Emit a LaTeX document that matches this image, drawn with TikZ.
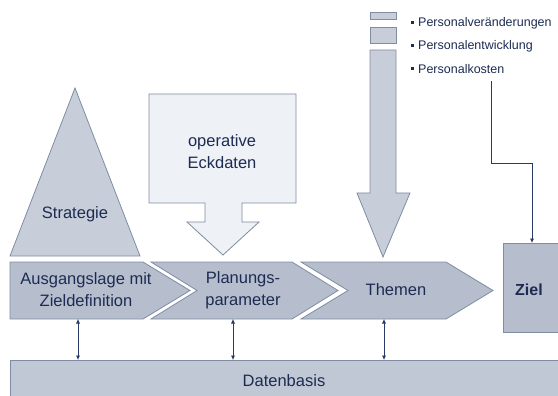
\documentclass[tikz,border=0pt]{standalone}
\usepackage{fontspec}
\setmainfont{Liberation Sans}
\usetikzlibrary{arrows.meta}
\definecolor{txt}{HTML}{1C2B52}
\definecolor{edge}{HTML}{7F8CA3}
\definecolor{chev}{HTML}{B6BECD}
\definecolor{tri}{HTML}{C8CED9}
\definecolor{pale}{HTML}{EEF1F5}
\definecolor{base}{HTML}{C0C8D5}
\definecolor{line}{HTML}{2A3A66}
\tikzset{
  shapeA/.style={draw=edge, line width=0.8pt, fill=chev},
  lbl/.style={text=txt, font=\fontsize{16.5}{22}\selectfont, align=center, inner sep=0pt},
  bul/.style={text=txt, font=\fontsize{12.5}{15}\selectfont, anchor=west, inner sep=0pt},
  link/.style={draw=line, line width=0.7pt, {Latex[length=4.5pt,width=4pt]}-{Latex[length=4.5pt,width=4pt]}},
  feed/.style={draw=line, line width=0.7pt, -{Latex[length=4.5pt,width=4pt]}}
}
\begin{document}
\begin{tikzpicture}[x=1pt,y=-1pt]
\useasboundingbox (0,0) rectangle (558,396);
% Strategie triangle
\draw[draw=edge, line width=0.8pt, fill=tri] (10,256) -- (75,88) -- (140,256) -- cycle;
\node[lbl] (strat) at (75,214) {Strategie};
% operative Eckdaten arrow
\draw[draw=edge, line width=0.8pt, fill=pale] (149,94) -- (296,94) -- (296,203) -- (242,203) -- (242,222) -- (259,222) -- (223,255) -- (187,222) -- (205,222) -- (205,203) -- (149,203) -- cycle;
\node[lbl] (eck) at (222,152) {operative\\Eckdaten};
% big down arrow
\draw[draw=edge, line width=0.8pt, fill=tri] (370,12) rectangle (396,19);
\draw[draw=edge, line width=0.8pt, fill=tri] (370,27) rectangle (396,43);
\draw[draw=edge, line width=0.8pt, fill=tri] (370,50) -- (396,50) -- (396,193) -- (410,193) -- (383,257) -- (357,193) -- (370,193) -- cycle;
% bullets
\node[bul] (b1) at (418,23) {Personalveränderungen};
\node[bul] (b2) at (418,46) {Personalentwicklung};
\node[bul] (b3) at (418,69) {Personalkosten};
\foreach \yy in {23,46,69} \fill[txt] (410.5,\yy-1.5) rectangle (413.5,\yy+1.5);
% chevrons
\draw[shapeA] (10,262) -- (143,262) -- (190,290.5) -- (143,319) -- (10,319) -- cycle;
\draw[shapeA] (151,262) -- (292,262) -- (338,290.5) -- (292,319) -- (151,319) -- (197,290.5) -- cycle;
\draw[shapeA] (301,262) -- (446,262) -- (493,290.5) -- (446,319) -- (301,319) -- (348,290.5) -- cycle;
\node[lbl] (aus) at (86,290) {Ausgangslage mit\\Zieldefinition};
\node[lbl] (plan) at (243,290) {Planungs-\\parameter};
\node[lbl] (them) at (396,290) {Themen};
\coordinate (c1) at (78,319);
\coordinate (c2) at (233,319);
\coordinate (c3) at (384,319);
% Ziel
\draw[shapeA] (503,243) rectangle (570,332);
\node[lbl, font=\fontsize{16}{20}\selectfont\bfseries] (ziel) at (529,290) {Ziel};
\coordinate (zt) at (532,243);
% Datenbasis
\draw[draw=edge, line width=0.8pt, fill=base] (10,360) rectangle (570,410);
\node[lbl] (db) at (284,381) {Datenbasis};
\coordinate (d1) at (78,360);
\coordinate (d2) at (233,360);
\coordinate (d3) at (384,360);
% connectors
\draw[link] (c1) -- (d1);
\draw[link] (c2) -- (d2);
\draw[link] (c3) -- (d3);
\coordinate (k0) at (491,81);
\draw[feed] (k0) |- (532,163) -- (zt);
\end{tikzpicture}
\end{document}
